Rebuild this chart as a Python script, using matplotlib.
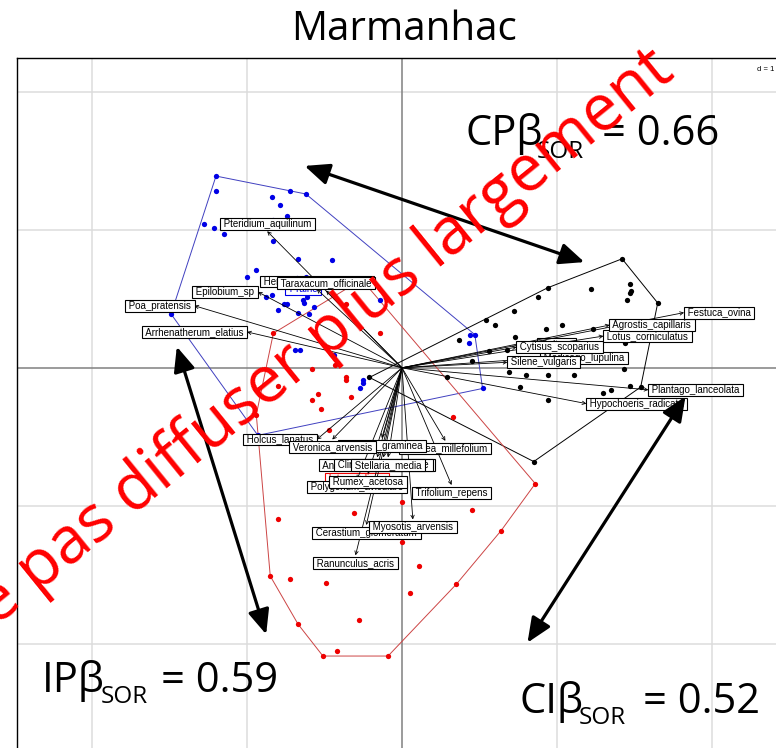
import numpy as np
import matplotlib
matplotlib.use("Agg")
import matplotlib.pyplot as plt
from matplotlib.patches import FancyArrowPatch

W, H = 776, 748

# scores des relevés par groupe (unités de la grille d = 1)
blue_x = [-1.20, -1.20, -0.72, -0.62, -0.84, -0.79, -0.74, -0.83, -1.28, -1.21,
          -1.15, -0.83, -0.67, -0.45, -0.94, -1.00, -0.62, -0.68, -0.88, -0.84,
          -0.74, -0.76, -0.64, -0.63, -0.61, -0.57, -0.80, -0.67, -0.60, -1.49,
          -0.14, -0.69, -0.66, -0.44, -0.25, -0.25, -0.27, 0.44, 0.47, 0.43,
          0.52, -0.93]
blue_y = [1.39, 1.28, 1.28, 1.26, 1.24, 1.18, 1.10, 1.07, 1.04, 1.01,
          0.97, 0.92, 0.79, 0.78, 0.71, 0.66, 0.66, 0.65, 0.51, 0.53,
          0.46, 0.46, 0.49, 0.47, 0.51, 0.44, 0.42, 0.40, 0.39, 0.39,
          0.49, 0.13, 0.13, 0.09, -0.09, -0.11, -0.15, 0.24, 0.24, 0.18,
          -0.15, -0.49]

black_x = [1.42, 1.47, 1.48, 1.47, 1.45, 1.65, 1.22, 0.94, 0.88, 0.72,
           0.54, 0.60, 0.93, 1.03, 1.23, 0.37, 0.73, 0.56, 0.68, 1.44,
           1.44, 0.45, 1.43, 0.69, 0.80, 0.94, 1.11, 0.29, 1.47, 1.54,
           1.35, 1.30, 0.76, 0.94, 0.85, -0.21]
black_y = [0.79, 0.61, 0.56, 0.54, 0.49, 0.47, 0.57, 0.58, 0.51, 0.41,
           0.35, 0.31, 0.28, 0.31, 0.28, 0.20, 0.22, 0.12, 0.13, 0.18,
           0.07, 0.05, -0.01, -0.03, -0.05, -0.05, -0.05, -0.07, -0.13, -0.14,
           -0.16, -0.18, -0.14, -0.23, -0.68, -0.07]

red_x = [0.86, 0.00, -0.31, 0.45, -0.80, 0.64, 0.00, 0.11, -0.85, -0.72,
         -0.49, 0.35, 0.05, -0.28, -0.67, -0.42, -0.51, -0.09, -0.36, -0.83,
         -0.14, -0.58, -0.43, -0.36, -0.36, -0.80, -0.54, -0.58, -0.33, -0.52,
         0.33, -0.47, -0.26, -0.94]
red_y = [-0.84, -0.97, -1.05, -1.03, -1.10, -1.18, -1.26, -1.44, -1.51, -1.53,
         -1.56, -1.57, -1.63, -1.83, -1.86, -2.05, -2.09, -2.09, 0.46, 0.25,
         0.25, -0.01, 0.02, -0.07, -0.09, -0.13, -0.19, -0.23, -0.21, -0.30,
         -0.36, -0.45, 0.64, -0.34]

group_names = ["Prairie", "Culture", "Intermediaire"]

# espèces (flèches)
species = ["Heracleum_sphondylium", "Taraxacum_officinale", "Pteridium_aquilinum",
           "Epilobium_sp", "Poa_pratensis", "Arrhenatherum_elatius", "Holcus_lanatus",
           "Achillea_millefolium", "Stellaria_graminea", "Veronica_arvensis",
           "Anthoxanthum_odoratum", "Clinopodium_vulgare", "Stellaria_media",
           "Polygonum_aviculare", "Rumex_acetosa", "Trifolium_repens",
           "Cerastium_glomeratum", "Myosotis_arvensis", "Ranunculus_acris",
           "Medicago_lupulina", "Silene_vulgaris", "Cytisus_scoparius",
           "Lotus_corniculatus", "Agrostis_capillaris", "Festuca_ovina",
           "Plantago_lanceolata", "Hypochoeris_radicata"]
species_x = [-0.55, -0.49, -0.87, -0.93, -1.34, -1.00, -0.55, 0.28, -0.13, -0.45,
             -0.16, -0.12, -0.09, -0.29, -0.22, 0.32, -0.23, 0.07, -0.30, 0.89,
             0.68, 0.74, 1.30, 1.34, 1.82, 1.59, 1.19]
species_y = [0.57, 0.56, 0.99, 0.55, 0.45, 0.26, -0.52, -0.53, -0.51, -0.52,
             -0.65, -0.65, -0.65, -0.81, -0.77, -0.85, -1.14, -1.10, -1.36, 0.07,
             0.04, 0.15, 0.23, 0.31, 0.40, -0.16, -0.26]

# indices de beta-diversité
beta_names = ["CP", "IP", "CI"]
beta_values = ["0.66", "0.59", "0.52"]


def fx(px):
    return px / W


def fy(py):
    return 1 - py / H


def hull(xs, ys):
    pts = sorted(set(zip(xs, ys)))

    def cross(o, a, b):
        return (a[0] - o[0]) * (b[1] - o[1]) - (a[1] - o[1]) * (b[0] - o[0])

    lower, upper = [], []
    for p in pts:
        while len(lower) >= 2 and cross(lower[-2], lower[-1], p) <= 0:
            lower.pop()
        lower.append(p)
    for p in reversed(pts):
        while len(upper) >= 2 and cross(upper[-2], upper[-1], p) <= 0:
            upper.pop()
        upper.append(p)
    h = lower[:-1] + upper[:-1]
    h.append(h[0])
    return np.array(h)


fig = plt.figure(figsize=(W / 100, H / 100), dpi=100)
ax = fig.add_axes([17 / W, 1 - 785 / H, 783 / W, 727 / H])
ax.set_xlim(-2.484, 2.568)
ax.set_ylim(-3.025, 2.246)
ax.set_xticks([])
ax.set_yticks([])
for s in ax.spines.values():
    s.set_linewidth(1.0)
    s.set_color("black")

for g in [-2, -1, 1, 2]:
    ax.axvline(g, color="#dcdcdc", lw=1.1, zorder=0)
    ax.axhline(g, color="#dcdcdc", lw=1.1, zorder=0)
ax.axvline(0, color="#808080", lw=1.1, zorder=0.5)
ax.axhline(0, color="#808080", lw=1.1, zorder=0.5)

groups = [(blue_x, blue_y, "#0000e6", "#4040c0"),
          (black_x, black_y, "black", "black"),
          (red_x, red_y, "#ee0000", "#cc4444")]
for (gx, gy, pc, lc) in groups:
    h = hull(gx, gy)
    ax.plot(h[:, 0], h[:, 1], color=lc, lw=0.7, zorder=2)
    ax.plot(gx, gy, "o", color=pc, ms=3.8, mec="none", zorder=2.5)

# étiquettes des groupes (centre de gravité)
for (gx, gy, pc, lc), name in zip(groups, group_names):
    ax.text(np.mean(gx), np.mean(gy), " " + name + " ", color=pc, fontsize=7,
            family="Liberation Sans", ha="center", va="center", zorder=3,
            bbox=dict(boxstyle="square,pad=0.12", fc="white", ec=pc, lw=0.8))

# flèches des espèces
for name, x, y in zip(species, species_x, species_y):
    ax.annotate("", xy=(x, y), xytext=(0, 0),
                arrowprops=dict(arrowstyle="->", lw=0.6, color="black",
                                shrinkA=0, shrinkB=0, mutation_scale=6),
                zorder=4)

for name, x, y in zip(species, species_x, species_y):
    if x > y and x > -y:
        off, ha = (0.5, 0), "left"
    elif x > y and x <= -y:
        off, ha = (0, -5.5), "center"
    elif x <= y and x <= -y:
        off, ha = (-0.5, 0), "right"
    else:
        off, ha = (0, 5.5), "center"
    ax.annotate(" " + name + " ", xy=(x, y), xytext=off, textcoords="offset points",
                ha=ha, va="center", fontsize=7, family="Liberation Sans",
                zorder=5,
                bbox=dict(boxstyle="square,pad=0.1", fc="white", ec="black", lw=0.8))

fig.text(fx(757), fy(71), "d = 1", fontsize=5.5, family="Liberation Sans",
         ha="left", va="baseline")

# titre
fig.text(fx(404), fy(40), "Marmanhac", ha="center", va="baseline",
         fontsize=29, family="Open Sans")

# flèches doubles entre groupes
pairs = [((302, 165), (587, 263)), ((176, 344), (267, 637)), ((687, 394), (526, 645))]
for a, b in pairs:
    arr = FancyArrowPatch((fx(a[0]), fy(a[1])), (fx(b[0]), fy(b[1])),
                          transform=fig.transFigure,
                          arrowstyle="<|-|>,head_length=1.5,head_width=0.65",
                          mutation_scale=10, lw=2.3, color="black", zorder=6)
    fig.add_artist(arr)

# textes beta SOR
beta_pos = [(465, 145, 537, 158, 602), (42, 692, 101, 703, 161), (519, 713, 579, 724, 643)]
for name, val, (x0, yb, xs, ys, xe) in zip(beta_names, beta_values, beta_pos):
    fig.text(fx(x0), fy(yb), name + "β", fontsize=30, family="Open Sans",
             va="baseline", ha="left", zorder=6)
    fig.text(fx(xs), fy(ys), "SOR", fontsize=17.5, family="Open Sans",
             va="baseline", ha="left", zorder=6)
    fig.text(fx(xe), fy(yb), "= " + val, fontsize=30, family="Open Sans",
             va="baseline", ha="left", zorder=6)

# filigrane
fig.text(fx(306), fy(353), "Ne pas diffuser plus largement", rotation=39,
         rotation_mode="anchor", color="red", fontsize=46.5, family="Open Sans",
         ha="center", va="center", zorder=10)

plt.savefig("out.png", dpi=100)
